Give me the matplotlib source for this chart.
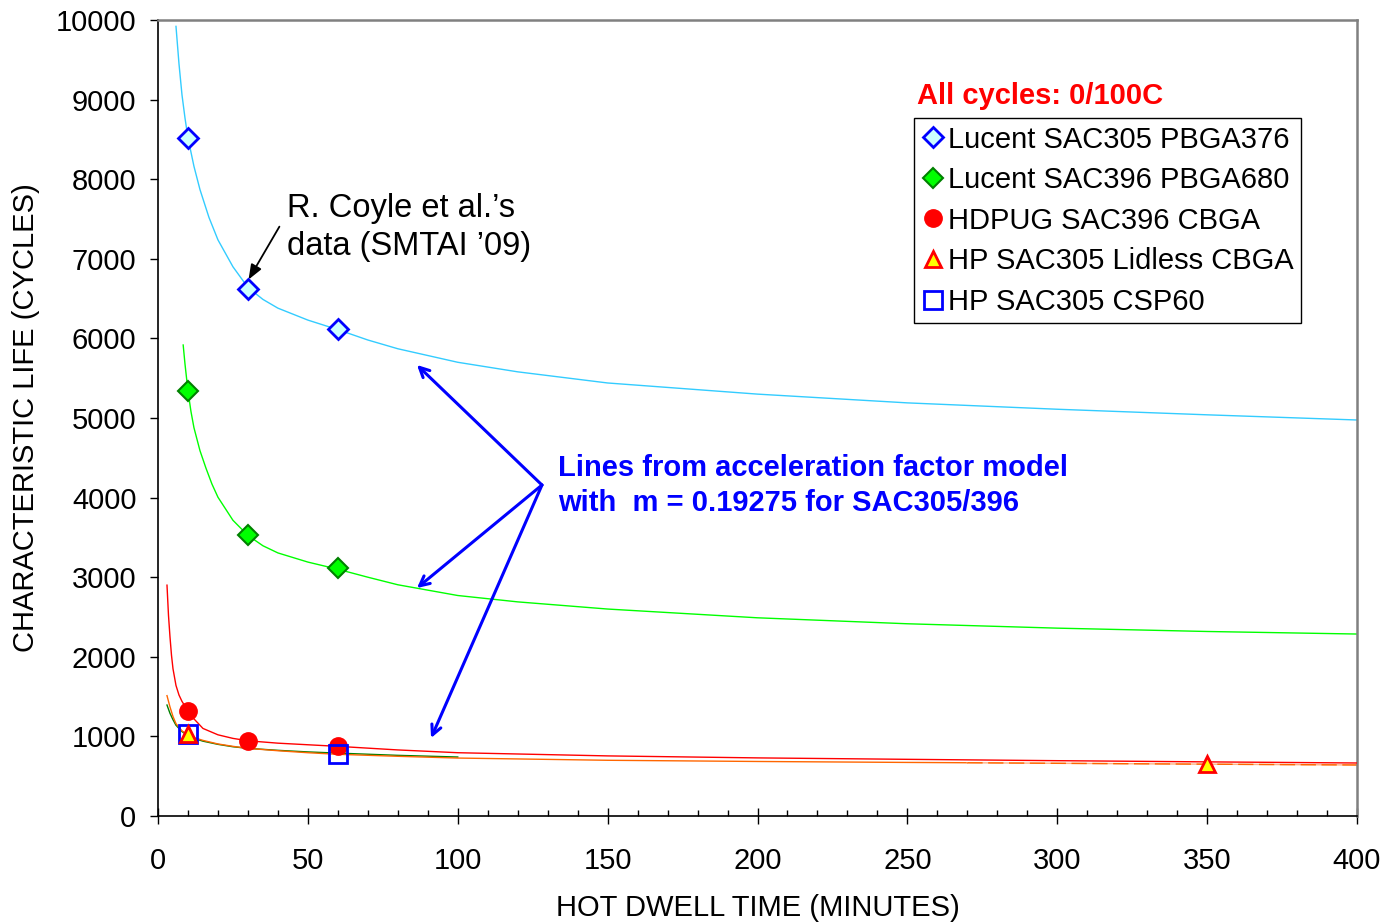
import matplotlib
matplotlib.use("Agg")
import matplotlib.pyplot as plt
from matplotlib.ticker import MultipleLocator

plt.rcParams['font.family'] = ['Liberation Sans', 'DejaVu Sans']

# ---- model curves ----
blue_t = [6, 7, 8, 9, 10, 12, 14, 17, 20, 25, 30, 35, 40, 50, 60, 70, 80, 100, 120, 150, 200, 250, 300, 350, 400]
blue_n = [9920, 9450, 9060, 8770, 8518, 8161, 7870, 7520, 7238, 6900, 6640, 6490, 6380, 6230, 6110, 5980, 5870,
          5700, 5580, 5440, 5300, 5190, 5110, 5040, 4975]

green_t = [8.4, 9, 10, 11, 12, 14, 16, 18, 20, 25, 30, 35, 40, 50, 60, 70, 80, 100, 120, 150, 200, 250, 300, 350, 400]
green_n = [5917, 5680, 5339, 5081, 4877, 4590, 4370, 4170, 4005, 3715, 3525, 3395, 3305, 3190, 3100, 3000, 2905,
           2770, 2690, 2600, 2490, 2415, 2360, 2318, 2286]

red_t = [3, 3.5, 4, 4.5, 5, 6, 7, 8, 10, 12, 15, 20, 25, 30, 40, 50, 60, 80, 100, 150, 200, 250, 300, 350, 400]
red_n = [2900, 2520, 2250, 2020, 1850, 1640, 1520, 1440, 1320, 1220, 1100, 1020, 975, 945, 915, 895, 875,
         830, 795, 755, 730, 712, 695, 680, 666]

orange_t = [3, 4, 5, 6, 8, 10, 12, 15, 20, 25, 30, 40, 50, 60, 80, 100, 150, 200, 250, 270]
orange_n = [1512, 1370, 1250, 1160, 1070, 1020, 985, 950, 905, 875, 850, 820, 795, 775, 750, 728, 700, 685,
            673, 669]
orange_tail_t = [270, 300, 350, 400]
orange_tail_n = [669, 662, 651, 641]

dkgreen_t = [3, 4, 5, 6, 8, 10, 12, 15, 20, 25, 30, 40, 50, 60, 80, 100]
dkgreen_n = [1394, 1290, 1210, 1140, 1060, 1010, 975, 940, 900, 870, 850, 825, 805, 790, 762, 741]

# ---- measured data ----
pbga376_t = [10, 30, 60]
pbga376_n = [8515, 6620, 6118]
pbga680_t = [10, 30, 60]
pbga680_n = [5339, 3530, 3116]
hdpug_t = [10, 30, 60]
hdpug_n = [1319, 946, 879]
lidless_t = [10, 350]
lidless_n = [1025, 649]
csp60_t = [10, 60]
csp60_n = [1030, 785]

labels = ["Lucent SAC305 PBGA376", "Lucent SAC396 PBGA680", "HDPUG SAC396 CBGA",
          "HP SAC305 Lidless CBGA", "HP SAC305 CSP60"]

fig = plt.figure(figsize=(13.86, 9.23), dpi=100)
ax = fig.add_axes([158/1386, 1-816/923, (1357-158)/1386, (816-20)/923])

lw = 1.0
ax.plot(blue_t, blue_n, color='#33CCFF', lw=lw, zorder=2)
ax.plot(green_t, green_n, color='#00FF00', lw=lw, zorder=2)
ax.plot(dkgreen_t, dkgreen_n, color='#008000', lw=lw, zorder=2)
ax.plot(orange_t, orange_n, color='#FF6600', lw=lw, zorder=2)
ax.plot(orange_tail_t, orange_tail_n, color='#FFB080', lw=lw, zorder=2)
ax.plot(orange_tail_t, orange_tail_n, color='#FF6600', lw=lw, zorder=2, dashes=(11, 4))
ax.plot(red_t, red_n, color='#FF0000', lw=lw, zorder=3)

ms = dict(linestyle='none', zorder=5)
h1, = ax.plot(pbga376_t, pbga376_n, marker='D', ms=10.5, mfc='#CCFFFF', mec='#0000FF', mew=2, label=labels[0], **ms)
h2, = ax.plot(pbga680_t, pbga680_n, marker='D', ms=10.5, mfc='#00FF00', mec='#008000', mew=1.5, label=labels[1], **ms)
h3, = ax.plot(hdpug_t, hdpug_n, marker='o', ms=12.5, mfc='#FF0000', mec='#FF0000', mew=1, label=labels[2], **ms)
h5, = ax.plot(csp60_t, csp60_n, marker='s', ms=13.5, mfc='none', mec='#0000FF', mew=2, label=labels[4], **ms)
h4, = ax.plot(lidless_t, lidless_n, marker='^', ms=12, mfc='#FFFF00', mec='#FF0000', mew=2, label=labels[3], **ms)

ax.set_xlim(0, 400)
ax.set_ylim(0, 10000)
ax.xaxis.set_major_locator(MultipleLocator(50))
ax.xaxis.set_minor_locator(MultipleLocator(10))
ax.yaxis.set_major_locator(MultipleLocator(1000))

fs = 21
ax.tick_params(axis='x', which='major', direction='inout', length=12, width=1, labelsize=fs, pad=16)
ax.tick_params(axis='x', which='minor', direction='in', length=4.5, width=1)
ax.tick_params(axis='y', which='major', direction='out', length=6, width=1, labelsize=fs, pad=9.5)

for s in ['top', 'right']:
    ax.spines[s].set_color('#808080')
    ax.spines[s].set_linewidth(1.8)
for s in ['left', 'bottom']:
    ax.spines[s].set_color('black')
    ax.spines[s].set_linewidth(1.2)

ax.set_xlabel("HOT DWELL TIME (MINUTES)", fontsize=fs)
ax.xaxis.label.set_va('center')
ax.xaxis.set_label_coords(0.5, (816-908)/796)
ax.set_ylabel("CHARACTERISTIC LIFE (CYCLES)", fontsize=fs)
ax.yaxis.label.set_va('center')
ax.yaxis.set_label_coords((26-158)/1199, 0.5)

leg = ax.legend(handles=[h1, h2, h3, h4, h5], loc='upper left',
                bbox_to_anchor=((914-158)/1199, (816-118)/796), borderaxespad=0,
                fontsize=fs, frameon=True, fancybox=False, framealpha=1, edgecolor='black',
                handlelength=0.8, handletextpad=0.1, labelspacing=0.43, borderpad=0.26, numpoints=1)
leg.get_frame().set_linewidth(1.0)

ax.text(253.2, (816-104)*12.563, "All cycles: 0/100C", color='#FF0000', fontsize=fs,
        fontweight='bold', ha='left', va='baseline')

ax.text(43.0, (816-217)*12.563, "R. Coyle et al.\u2019s", fontsize=23.5, ha='left', va='baseline')
ax.text(43.0, (816-255)*12.563, "data (SMTAI \u201909)", fontsize=23.5, ha='left', va='baseline')
ax.annotate("", xy=(30.2, 6739), xytext=(40.5, 7404),
            arrowprops=dict(arrowstyle='-|>,head_length=0.9,head_width=0.35', color='black', lw=1.3,
                            shrinkA=0, shrinkB=0))

ax.text(133.4, (816-476)*12.563, "Lines from acceleration factor model", color='#0000FF', fontsize=fs,
        fontweight='bold', ha='left', va='baseline')
ax.text(133.4, (816-511)*12.563, "with  m = 0.19275 for SAC305/396", color='#0000FF', fontsize=fs,
        fontweight='bold', ha='left', va='baseline')

src = (128.1, 4158)
for tip in [(86.4, 5666), (86.4, 2864), (91.1, 980)]:
    ax.annotate("", xy=tip, xytext=src,
                arrowprops=dict(arrowstyle='->,head_length=0.7,head_width=0.35', color='#0000FF', lw=2.2,
                                shrinkA=0, shrinkB=0))

fig.savefig("out.png", dpi=100)
